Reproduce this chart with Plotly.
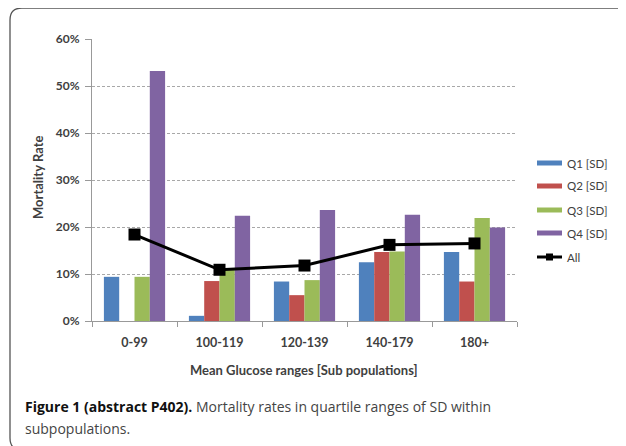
import plotly.graph_objects as go

categories = ["0-99", "100-119", "120-139", "140-179", "180+"]
q1 = [9.4, 1.1, 8.4, 12.5, 14.7]
q2 = [None, 8.5, 5.5, 14.7, 8.4]
q3 = [9.4, 10.9, 8.7, 14.8, 21.9]
q4 = [53.2, 22.4, 23.6, 22.6, 19.9]
all_rates = [18.4, 10.9, 11.8, 16.2, 16.5]
series_names = ["Q1 [SD]", "Q2 [SD]", "Q3 [SD]", "Q4 [SD]"]
series_colors = ["#4F81BD", "#C0504D", "#9BBB59", "#8064A2"]
y_ticks = [0, 10, 20, 30, 40, 50, 60]
y_tick_labels = ["0%", "10%", "20%", "30%", "40%", "50%", "60%"]

W, H = 626, 446
OFF = 8  # browser body margin: figure pixel = screen pixel - OFF
# plot area in screen pixels
SL, SR, ST, SB = 92, 517, 39, 321
L, R, T, B = SL - OFF, SR - OFF, ST - OFF, SB - OFF


def px(x):
    return (x - SL) / (SR - SL)


def py(y):
    return (SB - y) / (SB - ST)


CHART_FONT = "Lato"
TXT = "#404040"

fig = go.Figure()
for name, vals, col in zip(series_names, [q1, q2, q3, q4], series_colors):
    fig.add_trace(go.Bar(x=categories, y=vals, name=name, marker_color=col,
                         marker_line_width=0, showlegend=False))
fig.add_trace(go.Scatter(x=categories, y=all_rates, name="All", mode="lines+markers",
                         line=dict(color="black", width=3),
                         marker=dict(symbol="square", size=12, color="black"),
                         showlegend=False))

shapes = []
annotations = []

# custom legend
leg_y = [163, 186, 210, 233]
for name, col, yy in zip(series_names, series_colors, leg_y):
    shapes.append(dict(type="rect", xref="paper", yref="paper",
                       x0=px(537), x1=px(562), y0=py(yy + 2.5), y1=py(yy - 2.5),
                       fillcolor=col, line_width=0))
    annotations.append(dict(text=name, xref="paper", yref="paper", x=px(565), y=py(yy),
                            xanchor="left", yanchor="middle", showarrow=False,
                            font=dict(family=CHART_FONT, size=11.5, color=TXT)))
shapes.append(dict(type="line", xref="paper", yref="paper", x0=px(537), x1=px(562),
                   y0=py(257), y1=py(257), line=dict(color="black", width=3)))
shapes.append(dict(type="rect", xref="paper", yref="paper", x0=px(546), x1=px(553),
                   y0=py(260.5), y1=py(253.5), fillcolor="black", line_width=0))
annotations.append(dict(text="All", xref="paper", yref="paper", x=px(565), y=py(257),
                        xanchor="left", yanchor="middle", showarrow=False,
                        font=dict(family=CHART_FONT, size=11.5, color=TXT)))

# outer rounded border
path = (f"M {px(626)},{py(8)} L {px(22)},{py(8)} Q {px(10)},{py(8)} {px(10)},{py(20)} "
        f"L {px(10)},{py(438)} Q {px(10)},{py(444)} {px(13)},{py(447)}")
shapes.append(dict(type="path", xref="paper", yref="paper", path=path,
                   line=dict(color="#555555", width=1.3)))

# caption
annotations.append(dict(
    text="<span style='color:#111111'><b>Figure 1 (abstract P402).</b></span> "
         "Mortality rates in quartile ranges of SD within",
    xref="paper", yref="paper", x=px(23), y=py(406), xanchor="left", yanchor="middle",
    showarrow=False, font=dict(family="Open Sans", size=14, color="#444444")))
annotations.append(dict(
    text="subpopulations.",
    xref="paper", yref="paper", x=px(23), y=py(428), xanchor="left", yanchor="middle",
    showarrow=False, font=dict(family="Open Sans", size=14, color="#444444")))

# axis titles
annotations.append(dict(text="<b>Mortality Rate</b>", xref="paper", yref="paper",
                        x=px(38), y=py(178), textangle=-90, showarrow=False,
                        xanchor="center", yanchor="middle",
                        font=dict(family=CHART_FONT, size=13, color=TXT)))
annotations.append(dict(text="<b>Mean Glucose ranges [Sub populations]</b>", xref="paper",
                        yref="paper", x=px(304), y=py(370), showarrow=False,
                        xanchor="center", yanchor="middle",
                        font=dict(family=CHART_FONT, size=13, color=TXT)))

fig.update_layout(
    width=W, height=H,
    margin=dict(l=L, r=W - R, t=T, b=H - B, pad=0),
    paper_bgcolor="white", plot_bgcolor="white",
    barmode="group", bargap=0.28, bargroupgap=0,
    showlegend=False,
    shapes=shapes, annotations=annotations,
    font=dict(family=CHART_FONT, color=TXT),
)
fig.update_xaxes(type="category", showline=True, linecolor="#999999", linewidth=1,
                 ticks="outside", tickson="boundaries", ticklen=5, tickcolor="#999999",
                 showgrid=False, tickfont=dict(family=CHART_FONT, size=12.5, color=TXT),
                 tickprefix="<b>", ticksuffix="</b>", fixedrange=True,
                 ticklabelstandoff=10)
fig.update_yaxes(range=[0, 60], tickvals=y_ticks, ticktext=[f"<b>{t}</b>" for t in y_tick_labels],
                 showline=True, linecolor="#999999", linewidth=1,
                 ticks="outside", ticklen=6, tickcolor="#999999",
                 showgrid=True, gridcolor="#a8a8a8", griddash="3px,2px", gridwidth=1,
                 zeroline=False, tickfont=dict(family=CHART_FONT, size=12, color=TXT),
                 ticklabelstandoff=3)

fig.write_html("out.html")
